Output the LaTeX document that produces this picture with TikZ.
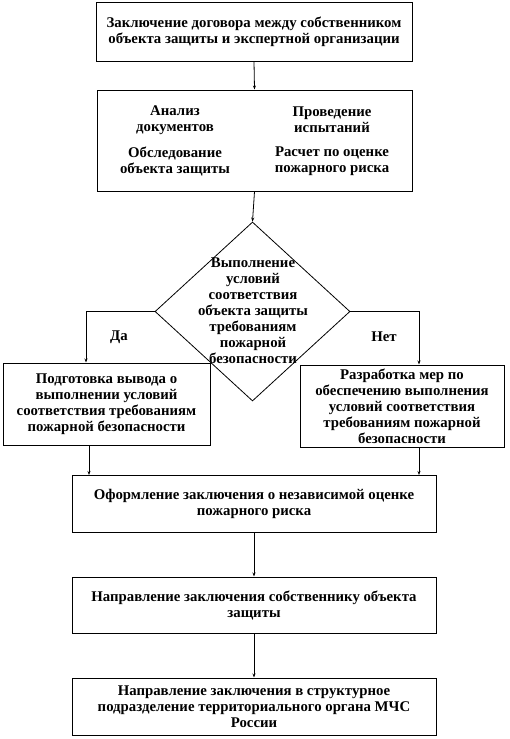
\documentclass[tikz,border=0pt]{standalone}
\usepackage{fontspec}
\setmainfont{Liberation Serif}
\usetikzlibrary{shapes.geometric,arrows.meta}
\begin{document}
\begin{tikzpicture}[x=1pt,y=-1pt,
  every node/.style={font=\bfseries\fontsize{14.8}{16}\selectfont},
  box/.style={draw,line width=1pt,inner sep=0pt,align=center},
  txt/.style={align=center,inner sep=0pt},
  arr/.style={line width=0.8pt,-{Stealth[length=4pt,width=3pt]}}]
\useasboundingbox (0,0) rectangle (510,739);
% boxes
\node[box,minimum width=316pt,minimum height=59pt] (b1) at (254,31.5)
  {Заключение договора между собственником\\объекта защиты и экспертной организации};
\node[box,minimum width=315pt,minimum height=101pt] (b2) at (254.5,140.5) {};
\node[txt] (t1) at (175,120) {Анализ\\документов};
\node[txt] (t2) at (332,120) {Проведение\\испытаний};
\node[txt] (t3) at (175,161) {Обследование\\объекта защиты};
\node[txt] (t4) at (332,161) {Расчет по оценке\\пожарного риска};
\node[draw,line width=0.8pt,shape=diamond,inner sep=0pt,minimum width=195pt,minimum height=179pt] (dia) at (252.5,311.5) {};
\node[txt] (dt) at (253,311) {Выполнение\\условий\\соответствия\\объекта защиты\\требованиям\\пожарной\\безопасности};
\node[box,minimum width=207pt,minimum height=82pt] (lb) at (106.5,404)
  {Подготовка вывода о\\выполнении условий\\соответствия требованиям\\пожарной безопасности};
\node[box,minimum width=204pt,minimum height=82pt] (rb) at (402,406)
  {Разработка мер по\\обеспечению выполнения\\условий соответствия\\требованиям пожарной\\безопасности};
\node[box,minimum width=364pt,minimum height=57pt] (b5) at (254,504)
  {Оформление заключения о независимой оценке\\пожарного риска};
\node[box,minimum width=364pt,minimum height=56pt] (b6) at (254,605)
  {Направление заключения собственнику объекта\\защиты};
\node[box,minimum width=364pt,minimum height=57pt] (b7) at (254,706.5)
  {Направление заключения в структурное\\подразделение территориального органа МЧС\\России};
% labels
\node[txt] (da) at (119,337) {Да};
\node[txt] (net) at (384,337) {Нет};
% coordinates
\coordinate (lx) at (86,0);
\coordinate (rx) at (419,0);
\coordinate (lx2) at (89,0);
% connectors
\draw[arr] (b1.south) -- (b2.north);
\draw[arr] (b2.south) -- (dia.north);
\draw[arr] (dia.west) -| (lb.north -| lx);
\draw[arr] (dia.east) -| (rb.north -| rx);
\draw[arr] (lb.south -| lx2) -- (b5.north -| lx2);
\draw[arr] (rb.south -| rx) -- (b5.north -| rx);
\draw[arr] (b5.south) -- (b6.north);
\draw[arr] (b6.south) -- (b7.north);
\end{tikzpicture}
\end{document}
